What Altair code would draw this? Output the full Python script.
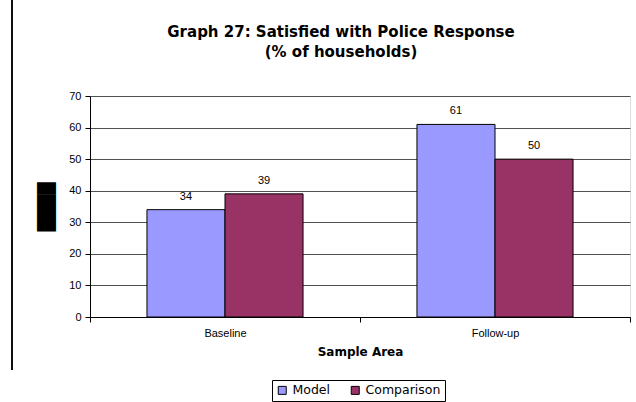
import altair as alt
import pandas as pd

# Survey results: share of households satisfied with the police response
areas = ["Baseline", "Follow-up"]
groups = ["Model", "Comparison"]
model_pct = [34, 61]
comparison_pct = [39, 50]
group_colors = ["#9999FF", "#993366"]
y_ticks = [0, 10, 20, 30, 40, 50, 60, 70]

rows = []
for i, area in enumerate(areas):
    rows.append({"area": area, "group": groups[0], "pct": model_pct[i]})
    rows.append({"area": area, "group": groups[1], "pct": comparison_pct[i]})
df = pd.DataFrame(rows)

FONT = "Liberation Sans"
WIDE = "DejaVu Sans"

x_enc = alt.X(
    "area:N",
    sort=areas,
    title="Sample Area",
    scale=alt.Scale(paddingInner=0, paddingOuter=0),
    axis=alt.Axis(
        labelAngle=0,
        tickBand="extent",
        tickSize=5,
        tickColor="black",
        domainColor="black",
        labelFont=FONT,
        labelFontSize=11,
        labelColor="black",
        labelPadding=5,
        titleFont=WIDE,
        titleFontSize=12,
        titleFontWeight="bold",
        titleColor="black",
        titlePadding=8,
    ),
)
xoff_enc = alt.XOffset(
    "group:N", sort=groups, scale=alt.Scale(paddingInner=0, paddingOuter=0.73)
)
y_enc = alt.Y(
    "pct:Q",
    scale=alt.Scale(domain=[0, 70], nice=False),
    title="████",
    axis=alt.Axis(
        values=y_ticks,
        grid=True,
        gridColor="#505050",
        gridWidth=1,
        tickSize=5,
        tickColor="black",
        domainColor="black",
        labelFont=FONT,
        labelFontSize=11,
        labelColor="black",
        labelPadding=4,
        titleFont="DejaVu Sans",
        titleFontSize=16,
        titleFontWeight="normal",
        titleColor="black",
        titlePadding=14,
    ),
)
color_enc = alt.Color(
    "group:N",
    sort=groups,
    scale=alt.Scale(domain=groups, range=group_colors),
    legend=alt.Legend(
        title=None,
        orient="none",
        legendX=182,
        legendY=284,
        direction="horizontal",
        symbolType="square",
        symbolSize=64,
        symbolStrokeColor="black",
        symbolStrokeWidth=1,
        labelFont=WIDE,
        labelFontSize=12.5,
        labelColor="black",
        strokeColor="black",
        padding=4,
        columnPadding=18,
    ),
)

base = alt.Chart(df).encode(x=x_enc, xOffset=xoff_enc, y=y_enc)

bars = base.mark_bar(stroke="black", strokeWidth=1).encode(color=color_enc)
labels = base.mark_text(
    dy=-10, baseline="alphabetic", font=FONT, fontSize=11, color="black"
).encode(text="pct:Q")

# thin page rule along the left edge
edge = alt.Chart(df).mark_rule(color="black", strokeWidth=1).encode(
    x=alt.value(-78), y=alt.value(-96), y2=alt.value(274)
)

chart = (
    alt.layer(bars, labels, edge)
    .properties(
        width=540,
        height=221,
        autosize=alt.AutoSizeParams(type="none"),
        padding={"left": 90, "top": 96, "right": 6, "bottom": 85},
        title=alt.TitleParams(
            text=["Graph 27: Satisfied with Police Response", "(% of households)"],
            font=WIDE,
            fontSize=15,
            fontWeight="bold",
            color="black",
            anchor="middle",
            frame="group",
            dx=-19,
            lineHeight=20,
            offset=-60,
        ),
    )
    .configure_view(stroke="#999999")
    .configure(background="white")
)

chart.save("out.html", embed_options={"renderer": "svg", "actions": False})
